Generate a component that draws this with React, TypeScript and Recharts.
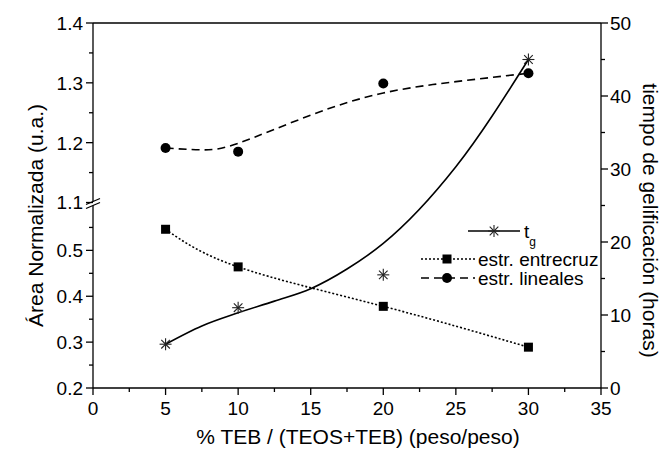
import React from "react";
import {
  ComposedChart,
  Line,
  XAxis,
  YAxis,
  ReferenceLine,
  ReferenceDot,
  Legend,
} from "recharts";

const FONT = '"Liberation Sans", Arial, Helvetica, sans-serif';

// ---- measured points ----
const tebPercent = [5, 10, 20, 30];
const tgHours = [6.0, 11.0, 15.5, 45.0];
const entrecruzArea = [0.546, 0.464, 0.378, 0.289];
const linealesArea = [1.191, 1.185, 1.299, 1.316];

// ---- guide curves as drawn in the figure ----
const tgCurveTeb = [5, 7.5, 10, 12.5, 15, 17.5, 20, 25, 30];
const tgCurve = [6.0, 8.5, 10.3, 11.9, 13.6, 16.3, 19.8, 30.3, 45.0];
const linCurveTeb = [5, 7.5, 10, 15, 20, 25, 30];
const linealesCurve = [1.191, 1.188, 1.199, 1.246, 1.283, 1.302, 1.316];

// ---- ticks ----
const xMajorTicks = [0, 5, 10, 15, 20, 25, 30, 35];
const xMinorTicks = [2.5, 7.5, 12.5, 17.5, 22.5, 27.5, 32.5];
const leftMajorTicks = [0.2, 0.3, 0.4, 0.5, 1.1, 1.2, 1.3, 1.4];
const leftMinorTicks = [0.25, 0.35, 0.45, 0.55, 1.15, 1.25, 1.35];
const rightMajorTicks = [0, 10, 20, 30, 40, 50];
const rightMinorTicks = [5, 15, 25, 35, 45];

// ---- broken left axis: lower 0.2–0.6, upper 1.1–1.4 ----
const LOW_MIN = 0.2, LOW_MAX = 0.6, HIGH_MIN = 1.1, HIGH_MAX = 1.4;
const LOW_SPAN = 184, GAP = 2, HIGH_SPAN = 180;
const toAxis = (v: number) =>
  v <= LOW_MAX
    ? ((v - LOW_MIN) / (LOW_MAX - LOW_MIN)) * LOW_SPAN
    : LOW_SPAN + GAP + ((v - HIGH_MIN) / (HIGH_MAX - HIGH_MIN)) * HIGH_SPAN;
const AXIS_MAX = LOW_SPAN + GAP + HIGH_SPAN;
const BREAK_AT = LOW_SPAN + GAP / 2;

const leftLabelMap: Record<string, string> = {};
leftMajorTicks.forEach((v) => (leftLabelMap[toAxis(v).toFixed(3)] = v.toFixed(1)));
const leftTicks = [...leftMajorTicks, ...leftMinorTicks].map(toAxis).sort((a, b) => a - b);

const allX = Array.from(new Set([...tgCurveTeb, ...linCurveTeb, ...tebPercent])).sort((a, b) => a - b);
const chartData = allX.map((x) => {
  const i = tebPercent.indexOf(x);
  const j = tgCurveTeb.indexOf(x);
  const k = linCurveTeb.indexOf(x);
  return {
    teb: x,
    tg: i >= 0 ? tgHours[i] : null,
    entrecruz: i >= 0 ? toAxis(entrecruzArea[i]) : null,
    lineales: i >= 0 ? toAxis(linealesArea[i]) : null,
    tgFit: j >= 0 ? tgCurve[j] : null,
    linFit: k >= 0 ? toAxis(linealesCurve[k]) : null,
  };
});

// ---- markers ----
const StarMark = ({ cx, cy }: { cx: number; cy: number }) => {
  const r = 6, d = 4.3;
  return (
    <g stroke="#222" strokeWidth={1.1}>
      <line x1={cx - r} y1={cy} x2={cx + r} y2={cy} />
      <line x1={cx} y1={cy - r} x2={cx} y2={cy + r} />
      <line x1={cx - d} y1={cy - d} x2={cx + d} y2={cy + d} />
      <line x1={cx - d} y1={cy + d} x2={cx + d} y2={cy - d} />
    </g>
  );
};
const SquareMark = ({ cx, cy }: { cx: number; cy: number }) => (
  <rect x={cx - 4.5} y={cy - 4.5} width={9} height={9} fill="#000" />
);
const CircleMark = ({ cx, cy }: { cx: number; cy: number }) => (
  <circle cx={cx} cy={cy} r={5} fill="#000" />
);

const dotOf = (Comp: any) => (p: any) => {
  if (p.cx == null || p.cy == null || p.value == null) return <g key={p.key} />;
  return (
    <g key={p.key}>
      <Comp cx={p.cx} cy={p.cy} />
    </g>
  );
};

// ---- ticks ----
const tickText = { fontSize: 19, fontFamily: FONT, fill: "#000" };
const near = (a: number, b: number) => Math.abs(a - b) < 1e-6;

const XTick = (props: any) => {
  const { x, y, payload } = props;
  const v = payload.value;
  const major = xMajorTicks.some((t) => near(t, v));
  return (
    <g>
      <line x1={x} y1={y} x2={x} y2={y + (major ? 7 : 4)} stroke="#000" strokeWidth={1.3} />
      {major && (
        <text x={x} y={y + 27} textAnchor="middle" {...tickText}>
          {v}
        </text>
      )}
    </g>
  );
};

const LeftTick = (props: any) => {
  const { x, y, payload } = props;
  const label = leftLabelMap[Number(payload.value).toFixed(3)];
  const major = label !== undefined;
  return (
    <g>
      <line x1={x - (major ? 7 : 4)} y1={y} x2={x} y2={y} stroke="#000" strokeWidth={1.3} />
      {major && (
        <text x={x - 10} y={y} dy="0.36em" textAnchor="end" {...tickText}>
          {label}
        </text>
      )}
    </g>
  );
};

const RightTick = (props: any) => {
  const { x, y, payload } = props;
  const v = payload.value;
  const major = rightMajorTicks.some((t) => near(t, v));
  return (
    <g>
      <line x1={x} y1={y} x2={x + (major ? 7 : 4)} y2={y} stroke="#000" strokeWidth={1.3} />
      {major && (
        <text x={x + 9} y={y} dy="0.36em" textAnchor="start" {...tickText}>
          {v}
        </text>
      )}
    </g>
  );
};

const titleText = { fontSize: 21, fontFamily: FONT, fill: "#000" };

const LegendBox = () => (
  <svg width={601} height={453} style={{ position: "absolute", left: 0, top: 0, overflow: "hidden" }}>
    <g>
      <line x1={468} y1={231} x2={520} y2={231} stroke="#000" strokeWidth={1.6} />
      <StarMark cx={494} cy={231} />
      <text x={524} y={231} dy="0.36em" fontSize={19} fontFamily={FONT} fill="#000">
        t
        <tspan fontSize={12} dy={8}>g</tspan>
      </text>
    </g>
    <g>
      <line x1={421} y1={259} x2={475} y2={259} stroke="#000" strokeWidth={1.6} strokeDasharray="2 2" />
      <SquareMark cx={447} cy={259} />
      <text x={478} y={259} dy="0.36em" fontSize={19} fontFamily={FONT} fill="#000">
        estr. entrecruz
      </text>
    </g>
    <g>
      <line x1={421} y1={278} x2={475} y2={278} stroke="#000" strokeWidth={1.6} strokeDasharray="8 5" />
      <CircleMark cx={447} cy={278} />
      <text x={478} y={278} dy="0.36em" fontSize={19} fontFamily={FONT} fill="#000">
        estr. lineales
      </text>
    </g>
  </svg>
);

const BreakMark = (p: any) => {
  const { cx, cy } = p;
  if (cx == null || cy == null) return <g />;
  return (
    <g>
      <polygon
        points={`${cx - 7},${cy + 5} ${cx + 7},${cy - 1} ${cx + 7},${cy - 5} ${cx - 7},${cy + 1}`}
        fill="#fff"
      />
      <line x1={cx - 7} y1={cy + 5} x2={cx + 7} y2={cy - 1} stroke="#000" strokeWidth={1.3} />
      <line x1={cx - 7} y1={cy + 1} x2={cx + 7} y2={cy - 5} stroke="#000" strokeWidth={1.3} />
    </g>
  );
};

export default function App() {
  return (
    <div style={{ width: 663, height: 453, background: "#fff" }}>
      <style>{"body{margin:0;background:#fff}"}</style>
      <ComposedChart
        width={663}
        height={453}
        data={chartData}
        margin={{ top: 23, right: 0, bottom: 0, left: 0 }}
      >
        <XAxis
          dataKey="teb"
          type="number"
          domain={[0, 35]}
          ticks={[...xMajorTicks, ...xMinorTicks].sort((a, b) => a - b)}
          interval={0}
          height={65}
          tickSize={0}
          tickMargin={0}
          tick={XTick}
          tickLine={false}
          axisLine={{ stroke: "#000", strokeWidth: 1.3 }}
          label={(p: any) => {
            const vb = p.viewBox || { x: 93, y: 388, width: 508, height: 65 };
            return (
              <text x={vb.x + vb.width / 2 + 11} y={vb.y + 48} dy="0.36em" textAnchor="middle" {...titleText}>
                % TEB / (TEOS+TEB) (peso/peso)
              </text>
            );
          }}
        />
        <YAxis
          yAxisId="left"
          type="number"
          domain={[0, AXIS_MAX]}
          ticks={leftTicks}
          interval={0}
          width={93}
          tickSize={0}
          tickMargin={0}
          tick={LeftTick}
          tickLine={false}
          axisLine={{ stroke: "#000", strokeWidth: 1.3 }}
          label={(p: any) => {
            const vb = p.viewBox || { x: 0, y: 23, width: 93, height: 365 };
            const cx = vb.x + 35;
            const cy = vb.y + vb.height / 2 + 10;
            return (
              <text
                x={cx}
                y={cy}
                transform={`rotate(-90 ${cx} ${cy})`}
                textAnchor="middle"
                dominantBaseline="central"
                {...titleText}
              >
                Área Normalizada (u.a.)
              </text>
            );
          }}
        />
        <YAxis
          yAxisId="right"
          orientation="right"
          type="number"
          domain={[0, 50]}
          ticks={[...rightMajorTicks, ...rightMinorTicks].sort((a, b) => a - b)}
          interval={0}
          width={62}
          tickSize={0}
          tickMargin={0}
          tick={RightTick}
          tickLine={false}
          axisLine={{ stroke: "#000", strokeWidth: 1.3 }}
          label={(p: any) => {
            const vb = p.viewBox || { x: 601, y: 23, width: 62, height: 365 };
            const cx = vb.x + 49;
            const cy = vb.y + vb.height / 2 + 15;
            return (
              <text
                x={cx}
                y={cy}
                transform={`rotate(90 ${cx} ${cy})`}
                textAnchor="middle"
                dominantBaseline="central"
                {...titleText}
              >
                tiempo de gelificación (horas)
              </text>
            );
          }}
        />
        <ReferenceLine yAxisId="left" y={AXIS_MAX} stroke="#000" strokeWidth={1.3} />
        <ReferenceDot yAxisId="left" x={0} y={BREAK_AT} r={0} shape={BreakMark} ifOverflow="visible" />

        <Line
          yAxisId="right"
          dataKey="tgFit"
          type="monotone"
          stroke="#000"
          strokeWidth={1.6}
          dot={false}
          activeDot={false}
          connectNulls
          isAnimationActive={false}
        />
        <Line
          yAxisId="left"
          dataKey="entrecruz"
          type="natural"
          stroke="#000"
          strokeWidth={1.6}
          strokeDasharray="2 2"
          dot={false}
          activeDot={false}
          connectNulls
          isAnimationActive={false}
        />
        <Line
          yAxisId="left"
          dataKey="linFit"
          type="natural"
          stroke="#000"
          strokeWidth={1.6}
          strokeDasharray="8 5"
          dot={false}
          activeDot={false}
          connectNulls
          isAnimationActive={false}
        />
        <Line
          yAxisId="right"
          dataKey="tg"
          stroke="none"
          dot={dotOf(StarMark)}
          activeDot={false}
          isAnimationActive={false}
        />
        <Line
          yAxisId="left"
          dataKey="entrecruz"
          stroke="none"
          dot={dotOf(SquareMark)}
          activeDot={false}
          isAnimationActive={false}
        />
        <Line
          yAxisId="left"
          dataKey="lineales"
          stroke="none"
          dot={dotOf(CircleMark)}
          activeDot={false}
          isAnimationActive={false}
        />
        <Legend
          content={<LegendBox />}
          layout="vertical"
          align="center"
          verticalAlign="middle"
          wrapperStyle={{ position: "absolute", left: 0, top: 0, width: 601, height: 453, pointerEvents: "none" }}
        />
      </ComposedChart>
    </div>
  );
}
